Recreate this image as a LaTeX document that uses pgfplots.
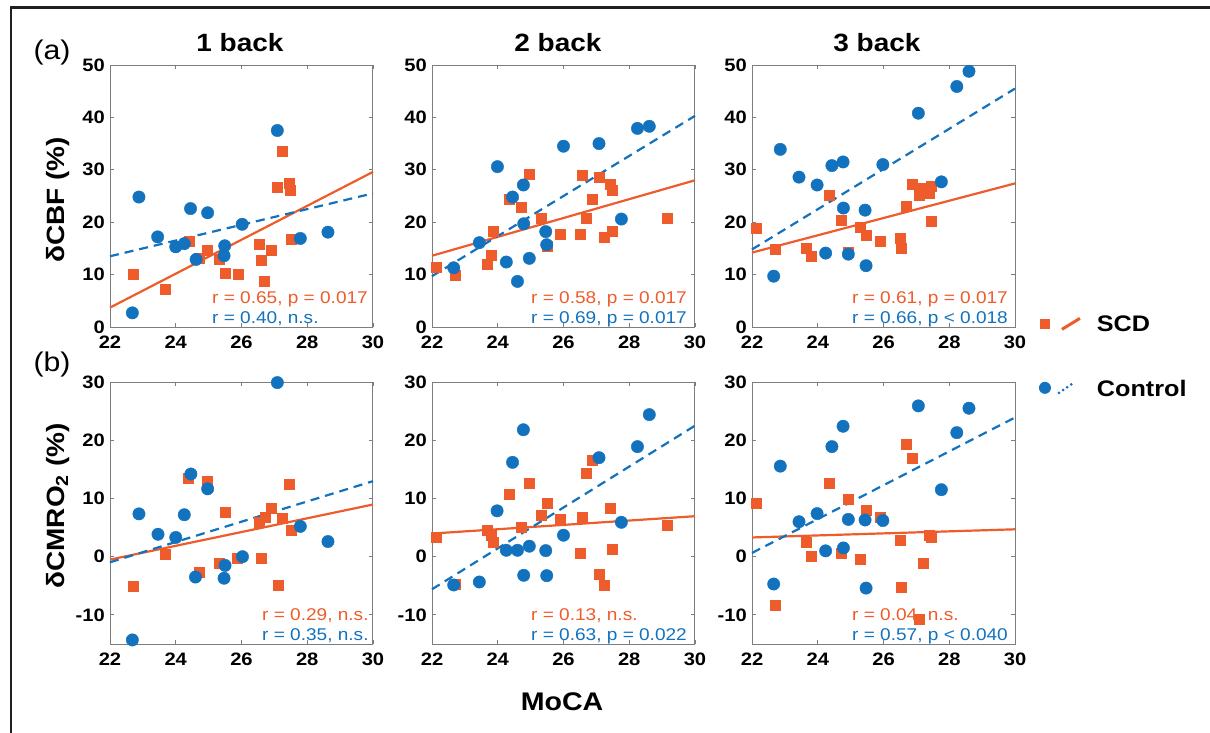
\documentclass[border=0pt]{standalone}
\usepackage{pgfplots}
\pgfplotsset{compat=1.18}
\usepackage{fontspec}
\setmainfont{Liberation Sans}[FakeStretch=1.12]
\definecolor{scd}{RGB}{237,92,42}
\definecolor{ctl}{RGB}{18,114,190}
\definecolor{axgray}{RGB}{125,125,125}
\definecolor{frame}{RGB}{35,31,32}
\newcommand{\fs}[1]{\fontsize{#1bp}{#1bp}\selectfont}

\pgfplotsset{
  panel/.style={
    scale only axis, width=263bp, height=262bp, anchor=north west,
    xmin=22, xmax=30, xtick={22,24,26,28,30}, xticklabels={22,24,26,28,30},
    axis line style={draw=axgray, line width=1bp},
    every tick/.style={draw=axgray, line width=0.9bp},
    major tick length=4bp, tick align=inside,
    xticklabel style={font=\fs{18}\bfseries, anchor=base, inner sep=0pt, yshift=-21.5bp},
    yticklabel style={font=\fs{18}\bfseries, anchor=east, inner sep=0pt, xshift=-5bp},
    clip=false,
  },
  toprow/.style={panel, ymin=0, ymax=50, ytick={0,10,20,30,40,50}, yticklabels={0,10,20,30,40,50}},
  botrow/.style={panel, ymin=-15, ymax=30, ytick={-10,0,10,20,30}, yticklabels={-10,0,10,20,30}},
  scdm/.style={only marks, mark=square*, mark size=5bp, color=scd, mark options={draw=scd, fill=scd}},
  ctlm/.style={only marks, mark=*, mark size=6.2bp, color=ctl, mark options={draw=ctl, fill=ctl}},
  scdl/.style={no marks, color=scd, line width=2.2bp},
  ctll/.style={no marks, color=ctl, line width=2.2bp, dash pattern=on 9bp off 6bp},
}

\begin{document}
\begin{tikzpicture}
\path[use as bounding box] (0,0) rectangle (1210bp,-733bp);
\draw[line width=2.5bp, frame] (11bp,-733bp) -- (11bp,-7.5bp) -- (1210bp,-7.5bp);

% ---------- (a) 1 back ----------
\begin{axis}[toprow, at={(110bp,-65bp)}]
\addplot[scdm] coordinates {(22.72,10.1) (23.68,7.3) (24.4,16.4) (24.72,13.1) (24.97,14.7) (25.32,13.0) (25.51,10.2) (25.91,10.0) (26.54,15.8) (26.59,12.7) (26.7,8.8) (26.9,14.7) (27.1,26.6) (27.24,33.5) (27.44,27.5) (27.48,26.2) (27.5,16.8)};
\addplot[ctlm] coordinates {(22.68,2.7) (22.88,24.8) (23.45,17.2) (24.0,15.3) (24.26,15.9) (24.45,22.6) (24.62,12.9) (24.97,21.8) (25.47,13.6) (25.49,15.5) (26.02,19.6) (27.09,37.5) (27.79,16.9) (28.63,18.1)};
\addplot[scdl] coordinates {(22,3.7) (30,29.6)};
\addplot[ctll] coordinates {(22,13.5) (30,25.5)};
\end{axis}

% ---------- (a) 2 back ----------
\begin{axis}[toprow, at={(432bp,-65bp)}]
\addplot[scdm] coordinates {(22.12,11.4) (22.71,9.9) (23.67,12.0) (23.81,13.7) (23.85,18.3) (24.35,24.3) (24.71,22.9) (24.96,29.2) (25.32,20.7) (25.49,15.5) (25.9,17.8) (26.52,17.8) (26.57,28.9) (26.69,20.7) (26.87,24.4) (27.1,28.5) (27.23,17.1) (27.42,27.2) (27.47,26.2) (27.48,18.3) (29.15,20.8)};
\addplot[ctlm] coordinates {(22.66,11.3) (23.44,16.1) (23.99,30.6) (24.26,12.4) (24.45,24.8) (24.6,8.7) (24.78,27.1) (24.79,19.7) (24.96,13.1) (25.46,18.2) (25.49,15.7) (26.0,34.5) (27.08,35.0) (27.76,20.6) (28.25,37.9) (28.61,38.3)};
\addplot[scdl] coordinates {(22,13.6) (30,28.0)};
\addplot[ctll] coordinates {(22,9.7) (30,40.3)};
\end{axis}

% ---------- (a) 3 back ----------
\begin{axis}[toprow, at={(752bp,-65bp)},
  legend cell align=left,
  legend style={draw=none, fill=none, inner sep=0pt, outer sep=0pt,
    nodes={inner sep=0pt, text depth=0pt, font=\fs{22.5}\bfseries},
    row sep=48bp, column sep=15.5bp,
    at={(axis description cs:1.091,0.042)}, anchor=north west}]
\addlegendimage{legend image code/.code={
  \path[draw=none, fill=none] (-6bp,-6bp) rectangle (36.5bp,6bp);
  \fill[scd, draw=none] (-5bp,-5bp) rectangle (5bp,5bp);
  \draw[scd, line width=3bp] (17bp,-5.5bp) -- (35bp,5.5bp);}}
\addlegendentry{SCD}
\addlegendimage{legend image code/.code={
  \path[draw=none, fill=none] (-6bp,-6bp) rectangle (36.5bp,6bp);
  \fill[ctl, draw=none] (0,0) circle (6bp);
  \draw[ctl, line width=3bp, line cap=round, dash pattern=on 0bp off 5bp] (14bp,-5bp) -- (30bp,6bp);}}
\addlegendentry{Control}
\addplot[scdm] coordinates {(22.12,18.9) (22.7,14.8) (23.65,15.0) (23.8,13.5) (24.35,25.1) (24.71,20.4) (24.94,14.3) (25.3,19.0) (25.48,17.5) (25.89,16.4) (26.52,17.0) (26.55,15.1) (26.68,23.1) (26.87,27.3) (27.08,25.1) (27.21,26.4) (27.4,25.5) (27.44,26.8) (27.46,20.2)};
\addplot[ctlm] coordinates {(22.66,9.7) (22.86,33.9) (23.43,28.6) (23.98,27.1) (24.24,14.1) (24.43,30.8) (24.77,31.5) (24.78,22.7) (24.93,13.9) (25.44,22.3) (25.47,11.7) (25.98,31.0) (27.06,40.8) (27.76,27.7) (28.23,45.9) (28.6,48.8)};
\addplot[scdl] coordinates {(22,14.2) (30,27.4)};
\addplot[ctll] coordinates {(22,14.8) (30,45.5)};
\end{axis}

% ---------- (b) 1 back ----------
\begin{axis}[botrow, at={(110bp,-382bp)}]
\addplot[scdm] coordinates {(22.72,-5.15) (23.68,0.4) (24.39,13.4) (24.72,-2.6) (24.97,12.9) (25.32,-1.2) (25.51,7.6) (25.88,-0.2) (26.55,5.85) (26.59,-0.2) (26.71,6.8) (26.9,8.4) (27.11,-4.9) (27.24,6.6) (27.44,12.5) (27.5,4.5)};
\addplot[ctlm] coordinates {(22.68,-14.3) (22.88,7.35) (23.46,3.85) (24.0,3.3) (24.26,7.2) (24.46,14.2) (24.6,-3.5) (24.97,11.65) (25.5,-1.5) (25.47,-3.7) (26.03,0.0) (27.09,29.9) (27.79,5.2) (28.63,2.6)};
\addplot[scdl] coordinates {(22,-0.5) (30,8.96)};
\addplot[ctll] coordinates {(22,-0.96) (30,12.97)};
\end{axis}

% ---------- (b) 2 back ----------
\begin{axis}[botrow, at={(432bp,-382bp)}]
\addplot[scdm] coordinates {(22.12,3.4) (22.71,-4.7) (23.67,4.5) (23.81,3.7) (23.85,2.5) (24.35,10.7) (24.71,5.1) (24.96,12.6) (25.32,7.2) (25.49,9.2) (25.9,6.4) (26.52,0.6) (26.57,6.7) (26.69,14.3) (26.87,16.5) (27.1,-3.0) (27.23,-4.9) (27.42,8.4) (27.48,1.3) (29.15,5.4)};
\addplot[ctlm] coordinates {(22.66,-4.86) (23.44,-4.35) (23.98,7.87) (24.26,1.1) (24.45,16.2) (24.6,1.1) (24.78,21.8) (24.79,-3.2) (24.96,1.8) (25.46,1.04) (25.49,-3.26) (26.0,3.68) (27.08,17.0) (27.76,5.9) (28.25,18.9) (28.61,24.4)};
\addplot[scdl] coordinates {(22,3.97) (30,6.95)};
\addplot[ctll] coordinates {(22,-5.6) (30,22.5)};
\end{axis}

% ---------- (b) 3 back ----------
\begin{axis}[botrow, at={(752bp,-382bp)}]
\addplot[scdm] coordinates {(22.12,9.1) (22.7,-8.3) (23.65,2.5) (23.8,0.1) (24.35,12.6) (24.71,0.6) (24.94,9.9) (25.3,-0.5) (25.48,8.0) (25.89,6.7) (26.52,2.8) (26.55,-5.3) (26.68,19.3) (26.87,16.9) (27.08,-10.8) (27.21,-1.2) (27.4,3.7) (27.46,3.4)};
\addplot[ctlm] coordinates {(22.66,-4.7) (22.86,15.55) (23.43,6.0) (23.98,7.4) (24.24,1.0) (24.43,18.9) (24.77,22.4) (24.78,1.5) (24.93,6.4) (25.44,6.3) (25.47,-5.4) (25.98,6.2) (27.06,25.9) (27.76,11.5) (28.23,21.3) (28.6,25.5)};
\addplot[scdl] coordinates {(22,3.3) (30,4.7)};
\addplot[ctll] coordinates {(22,0.64) (30,23.9)};
\end{axis}

% ---------- annotations ----------
\tikzset{ann/.style={anchor=base west, inner sep=0pt, font=\fs{17}}}
\node[ann, text=scd] at (212bp,-303bp) {r = 0.65, p = 0.017};
\node[ann, text=ctl] at (212bp,-323bp) {r = 0.40, n.s.};
\node[ann, text=scd] at (531bp,-303bp) {r = 0.58, p = 0.017};
\node[ann, text=ctl] at (531bp,-323bp) {r = 0.69, p = 0.017};
\node[ann, text=scd] at (852bp,-303bp) {r = 0.61, p = 0.017};
\node[ann, text=ctl] at (852bp,-323bp) {r = 0.66, p < 0.018};
\node[ann, text=scd] at (262bp,-620bp) {r = 0.29, n.s.};
\node[ann, text=ctl] at (262bp,-640bp) {r = 0.35, n.s.};
\node[ann, text=scd] at (531bp,-620bp) {r = 0.13, n.s.};
\node[ann, text=ctl] at (531bp,-640bp) {r = 0.63, p = 0.022};
\node[ann, text=scd] at (852bp,-620bp) {r = 0.04, n.s.};
\node[ann, text=ctl] at (852bp,-640bp) {r = 0.57, p < 0.040};

% ---------- titles and labels ----------
\node[anchor=base, inner sep=0pt, font=\fs{25}\bfseries] at (240bp,-51bp) {1 back};
\node[anchor=base, inner sep=0pt, font=\fs{25}\bfseries] at (558bp,-51bp) {2 back};
\node[anchor=base, inner sep=0pt, font=\fs{25}\bfseries] at (877bp,-51bp) {3 back};
\node[font=\fs{27}] at (52bp,-53bp) {(a)};
\node[font=\fs{27}] at (52bp,-365bp) {(b)};
\node[rotate=90, font=\fs{25}\bfseries] at (58bp,-200bp) {δCBF (\%)};
\node[rotate=90, font=\fs{25}\bfseries] at (58bp,-506bp) {δCMRO\textsubscript{2} (\%)};
\node[font=\fs{25.5}\bfseries] at (562bp,-702bp) {MoCA};
\end{tikzpicture}
\end{document}
